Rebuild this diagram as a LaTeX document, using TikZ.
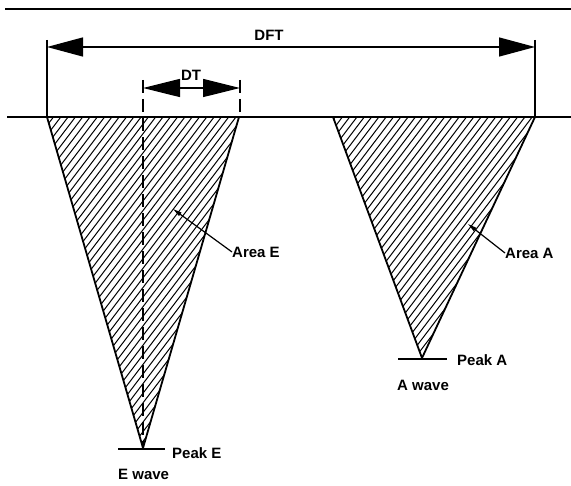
\documentclass[tikz,border=0pt]{standalone}
\usepackage{fontspec}
\setmainfont{Liberation Sans}
\usetikzlibrary{arrows.meta}
\tikzset{
  lbl/.style={font=\fontsize{15}{17}\selectfont\bfseries, inner sep=0pt, anchor=west},
  outline/.style={line width=1.8pt, line join=round},
  hatch/.style={line width=1pt},
  bigarrow/.style={line width=1.3pt, -{Triangle[length=36pt,width=19pt]}},
  dtarrow/.style={line width=1.3pt, -{Triangle[length=37pt,width=18pt]}},
  extline/.style={line width=1.4pt},
  dashline/.style={line width=1.4pt, dash pattern=on 13pt off 6pt},
  leader/.style={line width=1.2pt, {Triangle[length=9pt,width=4pt]}-}
}
\begin{document}
\begin{tikzpicture}[x=1pt,y=-1pt]
\useasboundingbox (0,0) rectangle (571,486);
% coordinates
\coordinate (rule0) at (5,9);
\coordinate (rule1) at (571,9);
\coordinate (base0) at (7,117);
\coordinate (base1) at (571,117);
\coordinate (EL) at (47,117);
\coordinate (ER) at (239,117);
\coordinate (EP) at (143,448);
\coordinate (AL) at (333,117);
\coordinate (AR) at (535,117);
\coordinate (AP) at (422,358);
% hatching
\begin{scope}
  \clip (EL) -- (ER) -- (EP) -- cycle;
  \foreach \i in {0,...,75} { \draw[hatch] ({-280+\i*7.3},460) -- ++(262,-345); }
\end{scope}
\begin{scope}
  \clip (AL) -- (AR) -- (AP) -- cycle;
  \foreach \i in {0,...,75} { \draw[hatch] ({60+\i*7.3},460) -- ++(262,-345); }
\end{scope}
% triangles
\draw[outline] (EL) -- (EP) -- (ER);
\draw[outline] (AL) -- (AP) -- (AR);
% rules
\draw[line width=1.2pt] (rule0) -- (rule1);
\draw[line width=2.4pt] (base0) -- (base1);
% DFT
\coordinate (dftL0) at (47,40);
\coordinate (dftR0) at (535,40);
\coordinate (dftLa) at (47,47);
\coordinate (dftRa) at (535,47);
\coordinate (dftM) at (291,47);
\draw[extline] (dftL0) -- (EL);
\draw[extline] (dftR0) -- (AR);
\draw[bigarrow] (dftM) -- (dftLa);
\draw[bigarrow] (dftM) -- (dftRa);
\node[lbl, anchor=center] (dft) at (269,35) {DFT};
% DT
\coordinate (dtL0) at (143,80);
\coordinate (dtR0) at (240,80);
\coordinate (dtRb) at (240,117);
\coordinate (dtLa) at (143,88);
\coordinate (dtRa) at (240,88);
\coordinate (dtM) at (191.5,88);
\draw[dashline] (dtL0) -- (EP);
\draw[dashline] (dtR0) -- (dtRb);
\draw[dtarrow] (dtM) -- (dtLa);
\draw[dtarrow] (dtM) -- (dtRa);
\node[lbl, anchor=center] (dt) at (191,75) {DT};
% peaks
\coordinate (pe0) at (118,449);
\coordinate (pe1) at (165,449);
\draw[line width=1.6pt] (pe0) -- (pe1);
\coordinate (pa0) at (398,359);
\coordinate (pa1) at (447,359);
\draw[line width=1.6pt] (pa0) -- (pa1);
\node[lbl] (peakE) at (172,453) {Peak E};
\node[lbl] (ewave) at (118,474) {E wave};
\node[lbl] (peakA) at (457,360) {Peak A};
\node[lbl] (awave) at (397,385) {A wave};
% areas
\node[lbl] (areaE) at (232,252) {Area E};
\node[lbl] (areaA) at (505,253) {Area A};
\coordinate (aeTip) at (173,209);
\coordinate (aaTip) at (468,224);
\draw[leader] (aeTip) -- (areaE.west);
\draw[leader] (aaTip) -- (areaA.west);
\end{tikzpicture}
\end{document}
